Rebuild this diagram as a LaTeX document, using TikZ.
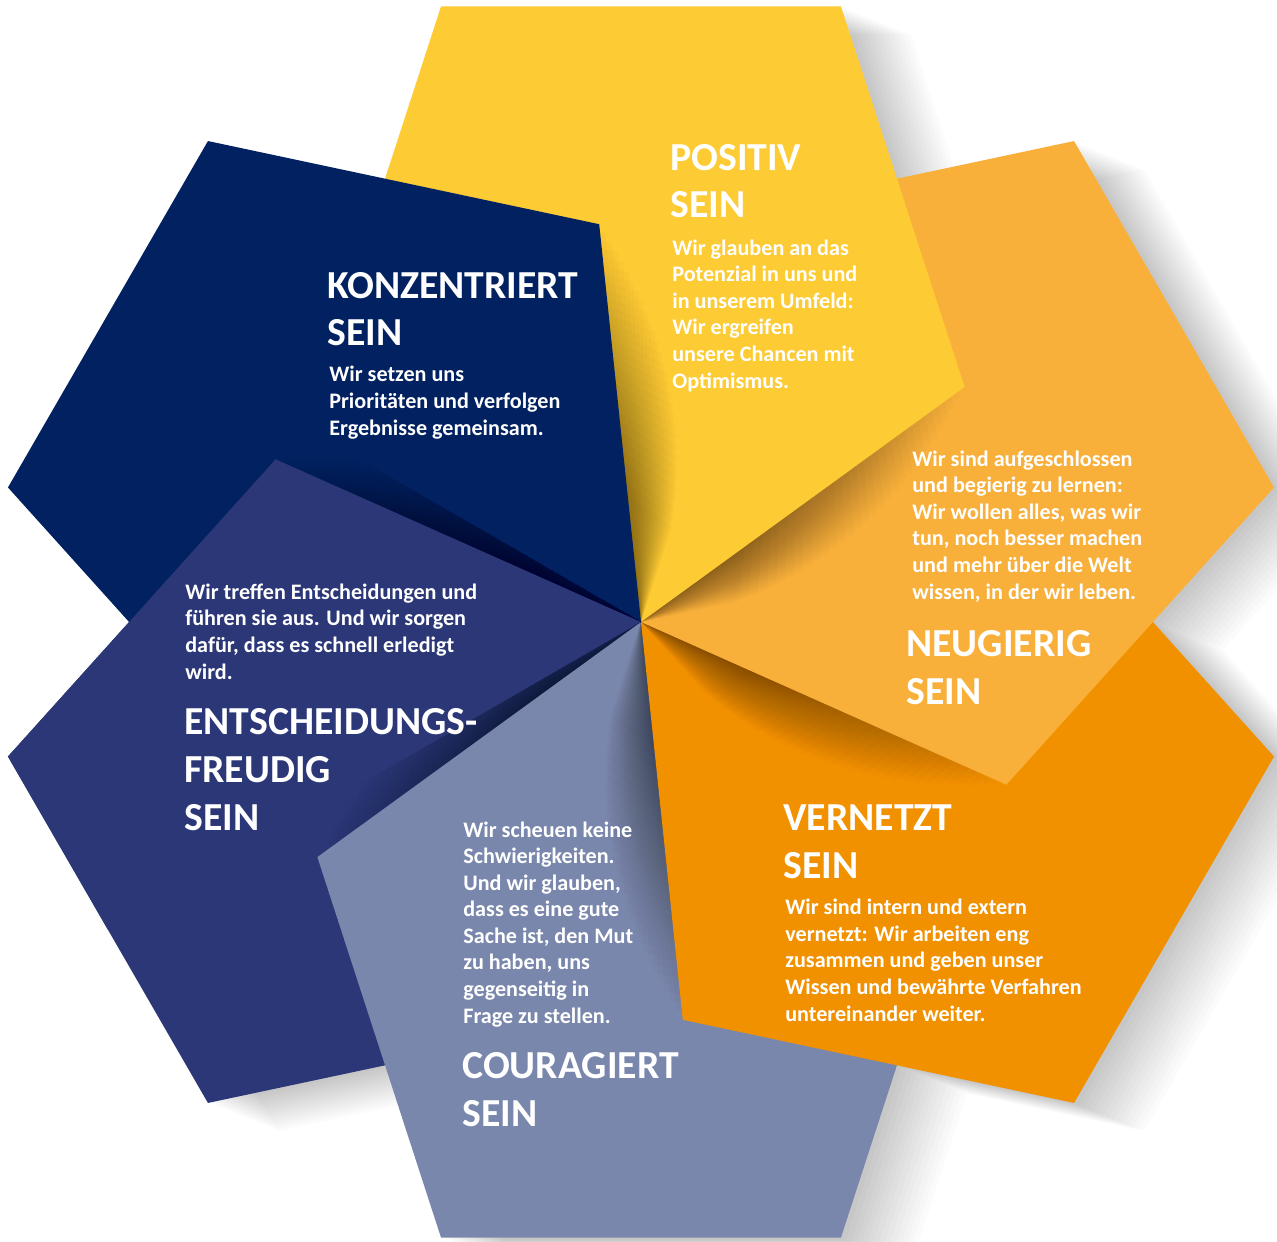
\documentclass[tikz,border=0pt]{standalone}
\usepackage{fontspec}
\setmainfont{Carlito}

\definecolor{posyellow}{HTML}{FDCB33}
\definecolor{neuorange}{HTML}{F8B03A}
\definecolor{vernorange}{HTML}{F29100}
\definecolor{courslate}{HTML}{7A87AC}
\definecolor{entblue}{HTML}{2B3777}
\definecolor{konznavy}{HTML}{022160}

% one petal, tip at the centre
\newcommand{\petal}{(0,0) -- (323.6,235.1) -- (200,615.5) -- (-200,615.5) -- (-323.6,235.1) -- cycle}
% outline of all six petals
\newcommand{\flower}{(-200,615.5) -- (200,615.5) -- (255.9,443.3) -- (433,481) -- (633,134.5) -- (511.9,0)
  -- (633,-134.5) -- (433,-481) -- (255.9,-443.3) -- (200,-615.5) -- (-200,-615.5) -- (-255.9,-443.3)
  -- (-433,-481) -- (-633,-134.5) -- (-511.9,0) -- (-633,134.5) -- (-433,481) -- (-255.9,443.3) -- cycle}

\begin{document}
\begin{tikzpicture}[
    x=0.02cm, y=0.02cm,
    title/.style={anchor=base west, inner sep=0pt, align=left, text=white,
                  font=\fontsize{22.6}{27.2}\selectfont\bfseries},
    body/.style={anchor=base west, inner sep=0pt, align=left, text=white,
                 font=\fontsize{12.6}{15.1}\selectfont\bfseries},
    outershadow/.style={fill=black, opacity=0.016},
    innershadow/.style={fill=black, opacity=0.016}
]

% Page
\fill[white] (-641,-619) rectangle (636,622);
\useasboundingbox (-641,-619) rectangle (636,622);

% Drop shadow of the whole flower
\foreach \k in {1,...,14}
    \fill[outershadow, shift={(5*\k,-2*\k)}] \flower;

% Petals, from bottom to top
\fill[entblue, rotate=-240] \petal;
\foreach \j/\col in {3/courslate, 2/vernorange, 1/neuorange, 0/posyellow, 5/konznavy} {
    \pgfmathtruncatemacro{\nxt}{mod(\j+1,6)}
    \begin{scope}
        \clip[rotate=-60*\nxt] \petal;
        \foreach \k in {1,...,30}
            \fill[innershadow, rotate=-60*\j-0.8*\k, scale=1-0.025*\k] \petal;
    \end{scope}
    \fill[\col, rotate=-60*\j] \petal;
}

% Entscheidungsfreudig lies over Konzentriert
\begin{scope}
    \clip (0,0) -- (150:1000) -- (180:1000) -- (210:1000) -- cycle;
    \begin{scope}
        \clip[rotate=-300] \petal;
        \foreach \k in {1,...,30}
            \fill[innershadow, rotate=-240-0.8*\k, scale=1-0.025*\k] \petal;
    \end{scope}
    \fill[entblue, rotate=-240] \petal;
\end{scope}

% Positiv
\node[title] (positiv) at (29,404) {POSITIV\\SEIN};
\node[body] (positiv-text) at (31,234) {Wir glauben an das\\Potenzial in uns und\\in unserem Umfeld:\\Wir ergreifen\\unsere Chancen mit\\Optimismus.};

% Neugierig
\node[body] (neugierig-text) at (271,23) {Wir sind aufgeschlossen\\und begierig zu lernen:\\Wir wollen alles, was wir\\tun, noch besser machen\\und mehr über die Welt\\wissen, in der wir leben.};
\node[title] (neugierig) at (265,-82) {NEUGIERIG\\SEIN};

% Vernetzt
\node[title] (vernetzt) at (142,-256) {VERNETZT\\SEIN};
\node[body] (vernetzt-text) at (144,-399) {Wir sind intern und extern\\vernetzt: Wir arbeiten eng\\zusammen und geben unser\\Wissen und bewährte Verfahren\\untereinander weiter.};

% Couragiert
\node[body] (couragiert-text) at (-178,-401) {Wir scheuen keine\\Schwierigkeiten.\\Und wir glauben,\\dass es eine gute\\Sache ist, den Mut\\zu haben, uns\\gegenseitig in\\Frage zu stellen.};
\node[title] (couragiert) at (-179,-504) {COURAGIERT\\SEIN};

% Entscheidungsfreudig
\node[body] (entscheidung-text) at (-456,-57) {Wir treffen Entscheidungen und\\führen sie aus. Und wir sorgen\\dafür, dass es schnell erledigt\\wird.};
\node[title] (entscheidung) at (-457,-208) {ENTSCHEIDUNGS-\\FREUDIG\\SEIN};

% Konzentriert
\node[title] (konzentriert) at (-314,276) {KONZENTRIERT\\SEIN};
\node[body] (konzentriert-text) at (-312,187) {Wir setzen uns\\Prioritäten und verfolgen\\Ergebnisse gemeinsam.};

\end{tikzpicture}
\end{document}
